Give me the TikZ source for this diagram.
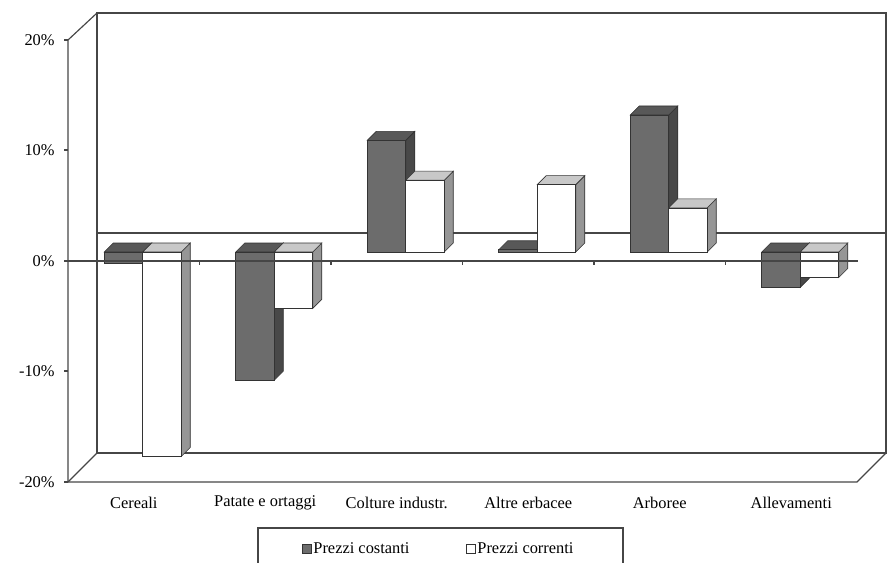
\documentclass[tikz,border=0pt]{standalone}
\usepackage{fontspec}
\setmainfont{Liberation Serif}
\usepackage{xcolor}

\definecolor{framegray}{RGB}{70,70,70}
\definecolor{darkfront}{RGB}{108,108,108}
\definecolor{darktop}{RGB}{88,88,88}
\definecolor{darkside}{RGB}{72,72,72}
\definecolor{lighttop}{RGB}{200,200,200}
\definecolor{lightside}{RGB}{150,150,150}

% one 3d column: left x (front plane), value in %, front/top/side colours
\newcommand{\drawbar}[5]{%
  \pgfmathsetmacro{\barL}{#1}
  \pgfmathsetmacro{\barR}{#1+38.5}
  \pgfmathsetmacro{\barV}{261-11.05*(#2)}
  \pgfmathsetmacro{\barT}{min(\barV,261)}
  \filldraw[barline, fill=#5] (\barR+9,252) -- (\barR+9,\barV-9) -- (\barR+18,\barV-18) -- (\barR+18,243) -- cycle;
  \filldraw[barline, fill=#4] (\barL+9,\barT-9) -- (\barR+9,\barT-9) -- (\barR+18,\barT-18) -- (\barL+18,\barT-18) -- cycle;
  \filldraw[barline, fill=#3] (\barL+9,252) rectangle (\barR+9,\barV-9);
}

\begin{document}
\begin{tikzpicture}[x=0.03cm, y=-0.03cm,
    frame/.style={draw=framegray, line width=1pt},
    barline/.style={draw=black!80, line width=0.5pt},
    lbl/.style={font=\fontsize{14}{16}\selectfont, inner sep=1pt}]
  \useasboundingbox (0,0) rectangle (891,563);

  % walls
  \draw[frame] (97,13) -- (886,13) -- (886,453) -- (97,453) -- cycle;
  \draw[frame] (97,13) -- (68,40) -- (68,482) -- (857,482) -- (886,453);
  \draw[frame] (68,482) -- (97,453);
  \draw[frame] (97,233) -- (886,233);

  % value axis
  \foreach \v/\y in {20/40, 10/150, 0/261, -10/371, -20/482} {
    \draw[frame] (64,\y) -- (68,\y);
    \node[lbl, anchor=east] (tick\v) at (56,\y) {\v\%};
  }

  % columns
  \foreach \i/\costanti/\correnti in {0/-1/-18.5, 1/-11.6/-5.1, 2/10.1/6.5, 3/0.2/6.1, 4/12.4/4.0, 5/-3.2/-2.3} {
    \pgfmathsetmacro{\xa}{68+131.5*\i+27.25}
    \drawbar{\xa}{\costanti}{darkfront}{darktop}{darkside}
    \drawbar{\xa+38.5}{\correnti}{white}{lighttop}{lightside}
  }

  \draw[frame] (64,261) -- (858,261);
  \foreach \k in {1,...,5}
    \draw[frame] (68+131.5*\k,261) -- (68+131.5*\k,265);

  % categories
  \foreach \i/\name in {0/Cereali, 1/Patate e ortaggi, 2/Colture industr., 3/Altre erbacee, 4/Arboree, 5/Allevamenti}
    \node[lbl] (cat\i) at (133.75+131.5*\i,503) {\name};

  % legend
  \draw[frame] (258,570) -- (258,528) -- (623,528) -- (623,570);
  \filldraw[barline, fill=darkfront] (302,544) rectangle (311,553);
  \node[lbl, anchor=west] (costanti) at (312,548) {Prezzi costanti};
  \filldraw[barline, fill=white] (466,544) rectangle (475,553);
  \node[lbl, anchor=west] (correnti) at (476,548) {Prezzi correnti};
\end{tikzpicture}
\end{document}
